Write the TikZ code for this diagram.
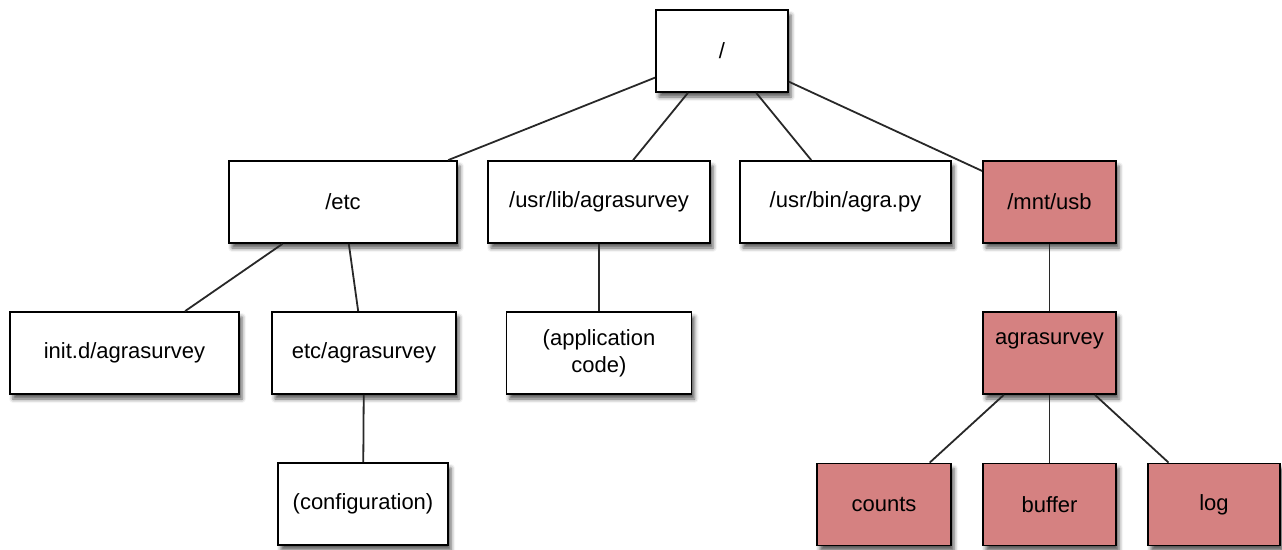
\documentclass[tikz,border=0pt]{standalone}
\usepackage{fontspec}
\setmainfont{Liberation Sans}
\usetikzlibrary{shadows.blur}
\definecolor{boxred}{RGB}{213,129,129}
\definecolor{edgegray}{RGB}{40,40,40}
\tikzset{
  dirbox/.style={draw=black, line width=1.8pt, fill=white, rectangle,
    inner sep=0pt, minimum height=82pt,
    font=\fontsize{22}{27}\selectfont, align=center,
    blur shadow={shadow xshift=3pt, shadow yshift=-5pt, shadow blur radius=4pt, shadow opacity=65}},
  usbbox/.style={dirbox, fill=boxred},
  link/.style={draw=edgegray, line width=1.8pt},
}
\begin{document}
\begin{tikzpicture}[x=1pt, y=-1pt]
\useasboundingbox (0,0) rectangle (1282,549);
\coordinate (c-root) at (722,51);
\coordinate (c-etc) at (343,202);
\coordinate (c-lib) at (599,202);
\coordinate (c-bin) at (845.5,202);
\coordinate (c-usb) at (1049.5,202);
\coordinate (c-init) at (124.5,353);
\coordinate (c-etcag) at (364,353);
\coordinate (c-app) at (599,353);
\coordinate (c-ag) at (1049.5,353);
\coordinate (c-conf) at (363,504);
\coordinate (c-counts) at (884,504.5);
\coordinate (c-buffer) at (1049.5,504.5);
\coordinate (c-log) at (1214,504.5);

\node[dirbox, minimum width=132pt] (root) at (c-root) {/};
\node[dirbox, minimum width=228pt] (etc) at (c-etc) {/etc};
\node[dirbox, minimum width=222pt] (lib) at (c-lib) {/usr/lib/agrasurvey};
\node[dirbox, minimum width=211pt] (bin) at (c-bin) {/usr/bin/agra.py};
\node[usbbox, minimum width=133pt] (usb) at (c-usb) {/mnt/usb};
\node[dirbox, minimum width=229pt] (init) at (c-init) {init.d/agrasurvey};
\node[dirbox, minimum width=184pt] (etcag) at (c-etcag) {etc/agrasurvey};
\node[dirbox, minimum width=185pt] (app) at (c-app) {(application\\code)};
\node[usbbox, minimum width=133pt, label={[font=\fontsize{22}{27}\selectfont, yshift=12pt]center:agrasurvey}] (ag) at (c-ag) {};
\node[dirbox, minimum width=170pt] (conf) at (c-conf) {(configuration)};
\node[usbbox, minimum width=134pt] (counts) at (c-counts) {counts};
\node[usbbox, minimum width=133pt] (buffer) at (c-buffer) {buffer};
\node[usbbox, minimum width=132pt] (log) at (c-log) {log};

\draw[link] (root) -- (etc);
\draw[link] (root) -- (lib);
\draw[link] (root) -- (bin);
\draw[link] (root) -- (usb);
\draw[link] (etc) -- (init);
\draw[link] (etc) -- (etcag);
\draw[link] (lib) -- (app);
\draw[link] (etcag) -- (conf);
\draw[link] (usb) -- (ag);
\draw[link] (ag) -- (counts);
\draw[link] (ag) -- (buffer);
\draw[link] (ag) -- (log);
\end{tikzpicture}
\end{document}
